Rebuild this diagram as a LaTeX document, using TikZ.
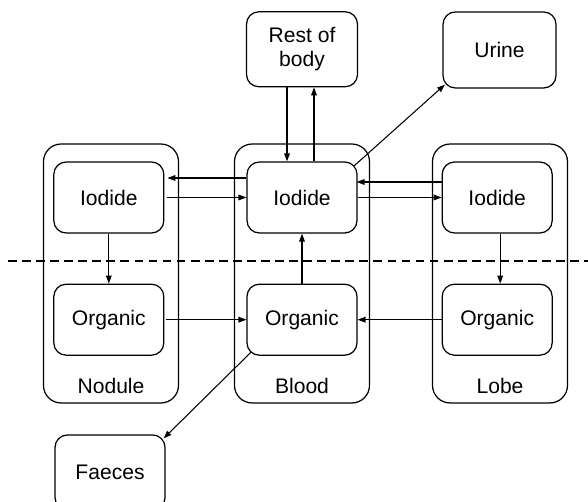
\documentclass[tikz,border=0pt]{standalone}
\usepackage{fontspec}
\setmainfont{Liberation Sans}
\usepackage{tikz}
\usetikzlibrary{positioning, arrows.meta}

\begin{document}
\begin{tikzpicture}[
  x=0.02cm, y=-0.02cm,
  pool/.style={
    rectangle, rounded corners=7pt, draw, line width=0.7pt,
    minimum width=2.2cm, minimum height=1.42cm, align=center,
    font=\fontsize{12}{13.5}\selectfont
  },
  organ/.style={
    rectangle, rounded corners=10pt, draw, line width=0.7pt,
    minimum width=2.7cm, minimum height=5.18cm
  },
  tag/.style={font=\fontsize{12}{13.5}\selectfont},
  arr/.style={-{Triangle[length=4.5pt, width=3.2pt]}, line width=0.6pt}
]
\useasboundingbox (0,0) rectangle (588,502);

% compartments
\node[organ] (nodule) at (111,273.5) {};
\node[organ] (blood) at (302,273.5) {};
\node[organ] (lobe) at (500,273.5) {};

\node[tag] at ([yshift=0.36cm]nodule.south) {Nodule};
\node[tag] at ([yshift=0.36cm]blood.south) {Blood};
\node[tag] at ([yshift=0.36cm]lobe.south) {Lobe};

% pools
\node[pool] (bi) at (302,197.5) {Iodide};
\node[pool, left=1.64cm of bi] (ni) {Iodide};
\node[pool, right=1.68cm of bi] (li) {Iodide};
\node[pool, below=1.0cm of bi] (bo) {Organic};
\node[pool, below=1.0cm of ni] (no) {Organic};
\node[pool, below=1.0cm of li] (lo) {Organic};

\node[pool, minimum width=2.22cm, minimum height=1.5cm, above=1.48cm of bi] (rest) {Rest of\\body};
\node[pool, minimum width=2.26cm, minimum height=1.52cm] (urine) at (499.5,50) {Urine};
\node[pool, minimum height=1.5cm] (faeces) at (110,472.5) {Faeces};

% thyroid / plasma divide
\coordinate (cutL) at (8,261);
\coordinate (cutR) at (588,261);
\draw[line width=0.6pt, dash pattern=on 5pt off 3pt] (cutL) -- (cutR);

% exchange with rest of body
\draw[arr] ([xshift=-0.3cm]rest.south) -- ([xshift=-0.3cm]bi.north);
\draw[arr] ([xshift=0.24cm]bi.north) -- ([xshift=0.24cm]rest.south);
\draw[arr] ([shift={(-0.07cm,-0.09cm)}]bi.north east) -- ([shift={(0.05cm,0.08cm)}]urine.south west);
\draw[arr] ([shift={(0.1cm,0.08cm)}]bo.south west) -- ([shift={(-0.04cm,-0.08cm)}]faeces.north east);

% iodide traffic
\draw[arr, shorten >=0.06cm] ([yshift=0.39cm]bi.west) -- ([yshift=0.39cm]ni.east);
\draw[arr, shorten <=0.06cm] (ni.east) -- (bi.west);
\draw[arr, shorten >=-0.02cm] ([yshift=0.31cm]li.west) -- ([yshift=0.31cm]bi.east);
\draw[arr] (bi.east) -- (li.west);

% organification and release
\draw[arr] (ni.south) -- (no.north);
\draw[arr] (bo.north) -- (bi.south);
\draw[arr] ([xshift=0.06cm]li.south) -- ([xshift=0.06cm]lo.north);
\draw[arr, shorten <=0.04cm] (no.east) -- (bo.west);
\draw[arr] (lo.west) -- (bo.east);

\end{tikzpicture}
\end{document}
